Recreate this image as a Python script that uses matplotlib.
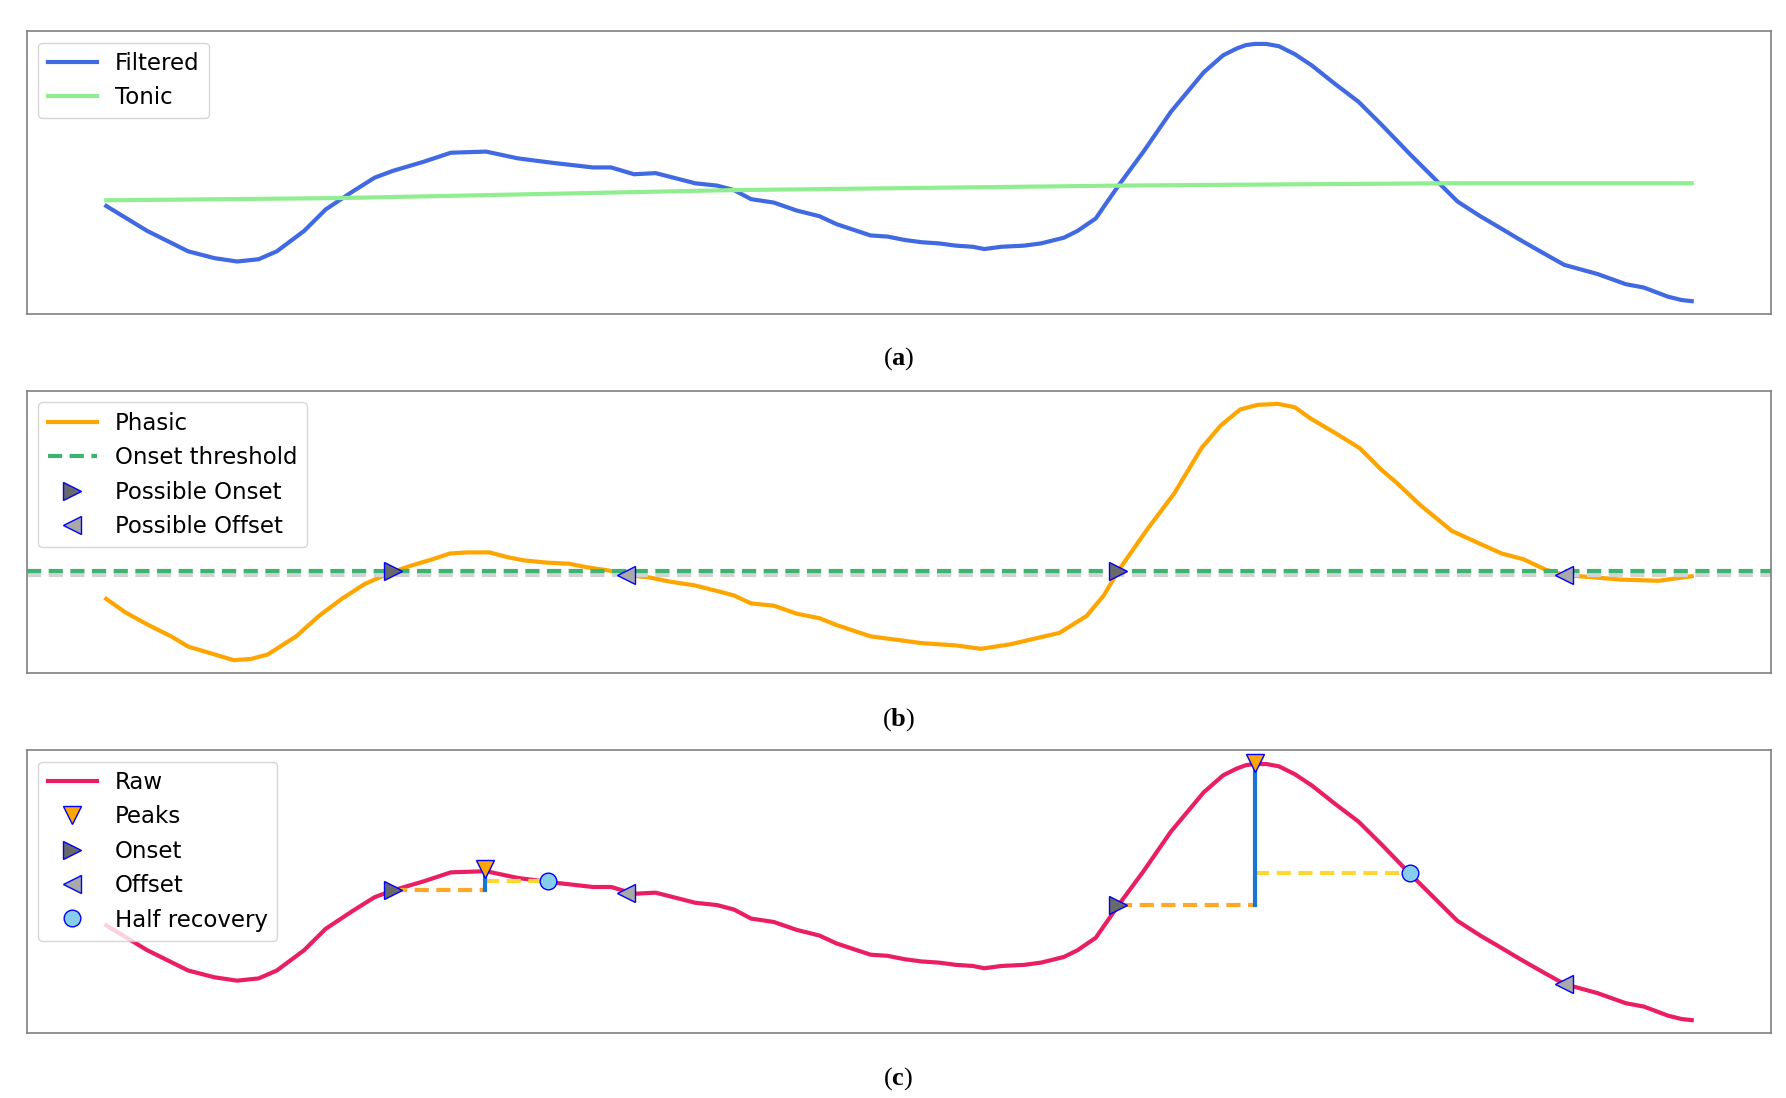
import numpy as np
import matplotlib
matplotlib.use("Agg")
import matplotlib.pyplot as plt

# signal (sample index, arbitrary units)
raw_x = [0, 36, 72, 95, 115, 134, 150, 174, 193, 217, 236, 252, 279, 303, 334,
         362, 393, 428, 444, 464, 483, 518, 537, 552, 567, 587, 607, 627, 642,
         657, 672, 687, 702, 717, 732, 747, 762, 772, 787, 807, 822, 842, 854,
         870, 890, 912, 936, 965, 982, 994, 1002, 1010, 1020, 1031, 1045, 1060,
         1080, 1101, 1121, 1146, 1167, 1188, 1208, 1225, 1245, 1266, 1282, 1311,
         1336, 1352, 1373, 1385, 1394]
raw_y = [99, 77, 59, 53, 50, 52, 59, 77, 96, 112, 124, 130, 138, 146, 147,
         141, 137, 133, 133, 127, 128, 119, 117, 113, 105, 102, 95, 90, 83,
         78, 73, 72, 69, 67, 66, 64, 63, 61, 63, 64, 66, 71, 77,
         88, 117, 147, 182, 217, 232, 238, 241, 242, 242, 240, 233, 223,
         207, 191, 171, 145, 124, 103, 90, 80, 68, 56, 47, 39,
         30, 27, 19, 16, 15]
filtered_x = raw_x
filtered_y = raw_y

tonic_x = [0, 207, 550, 892, 1169, 1394]
tonic_y = [104, 106, 113, 117, 119, 119]

phasic_x = [0, 17, 37, 57, 72, 92, 112, 127, 142, 167, 187, 207, 227, 247, 267,
            287, 302, 317, 337, 352, 367, 387, 407, 422, 442, 457, 477, 497,
            517, 537, 552, 567, 587, 607, 627, 642, 657, 672, 687, 702, 717,
            732, 747, 769, 795, 838, 862, 877, 890, 915, 939, 963, 980, 997,
            1012, 1030, 1045, 1059, 1081, 1102, 1121, 1135, 1155, 1183, 1207,
            1227, 1246, 1265, 1282, 1308, 1332, 1365, 1394]
phasic_y = [-21, -33, -44, -54, -63, -69, -75, -74, -70, -54, -36, -21, -8, 1, 8,
            14, 19, 20, 20, 16, 13, 11, 10, 7, 4, 0, -2, -6,
            -9, -14, -18, -25, -27, -34, -38, -44, -49, -54, -56, -58, -60,
            -61, -62, -65, -61, -51, -36, -18, 4, 40, 72, 112, 132, 146,
            150, 151, 148, 138, 125, 112, 93, 81, 62, 39, 28,
            19, 14, 5, 0, -2, -4, -5, -1]
onset_threshold = 4
zero_level = 0

possible_onset_x = [252, 890]
possible_offset_x = [457, 1282]

# events on raw signal
onset_x = [252, 890]
onset_y = [130, 117]
peak_x = [333, 1010]
peak_y = [149, 243]
halfrec_x = [388, 1146]
halfrec_y = [138, 145]
offset_x = [457, 1282]
offset_y = [128, 47]

plt.rcParams['mathtext.fontset'] = 'custom'
plt.rcParams['mathtext.rm'] = 'Liberation Serif'
plt.rcParams['mathtext.bf'] = 'Liberation Serif:bold'

fig = plt.figure(figsize=(17.86, 10.98), dpi=100)
ax_a = fig.add_axes([0.0151, 0.714, 0.9765, 0.2577])
ax_b = fig.add_axes([0.0151, 0.3871, 0.9765, 0.2568])
ax_c = fig.add_axes([0.0151, 0.0592, 0.9765, 0.2577])

lw = 3
dash = (3.4, 1.8)
mk = dict(markersize=13, markeredgecolor='blue', markeredgewidth=1, linestyle='none')

# (a)
ax_a.plot(filtered_x, filtered_y, color='royalblue', lw=lw, label='Filtered')
ax_a.plot(tonic_x, tonic_y, color='lightgreen', lw=lw, label='Tonic')

# (b)
ax_b.plot(phasic_x, phasic_y, color='orange', lw=lw, label='Phasic')
ax_b.axhline(zero_level, color='lightgray', ls='--', dashes=dash, lw=lw)
ax_b.axhline(onset_threshold, color='mediumseagreen', ls='--', dashes=dash, lw=lw,
             label='Onset threshold')
ax_b.plot(possible_onset_x, [onset_threshold] * 2, marker='>', markerfacecolor='dimgray',
          label='Possible Onset', **mk)
ax_b.plot(possible_offset_x, [zero_level] * 2, marker='<', markerfacecolor='darkgray',
          label='Possible Offset', **mk)

# (c)
ax_c.plot(raw_x, raw_y, color='#e91e63', lw=lw, label='Raw')
for i in range(len(peak_x)):
    ax_c.plot([onset_x[i], peak_x[i]], [onset_y[i], onset_y[i]], color='#ffa726',
              ls='--', dashes=dash, lw=lw)
    ax_c.plot([peak_x[i], halfrec_x[i]], [halfrec_y[i], halfrec_y[i]], color='#fdd835',
              ls='--', dashes=dash, lw=lw)
    ax_c.plot([peak_x[i], peak_x[i]], [onset_y[i], peak_y[i]], color='#1976d2', lw=lw)
ax_c.plot(peak_x, peak_y, marker='v', markerfacecolor='orange', label='Peaks', **mk)
ax_c.plot(onset_x, onset_y, marker='>', markerfacecolor='dimgray', label='Onset', **mk)
ax_c.plot(offset_x, offset_y, marker='<', markerfacecolor='darkgray', label='Offset', **mk)
ax_c.plot(halfrec_x, halfrec_y, marker='o', markerfacecolor='skyblue', label='Half recovery',
          markersize=12, markeredgecolor='blue', markeredgewidth=1, linestyle='none')

for ax, cap, yc in [(ax_a, 'a', 0.673), (ax_b, 'b', 0.345), (ax_c, 'c', 0.018)]:
    ax.set_xticks([])
    ax.set_yticks([])
    for s in ax.spines.values():
        s.set_color('#808080')
        s.set_linewidth(1.2)
    ax.legend(loc='upper left', fontsize=16.5, handlelength=2.15)
    fig.text(0.503, yc, r'$\mathrm{(}\mathbf{%s}\mathrm{)}$' % cap, fontsize=19,
             ha='center', va='center')

fig.savefig('out.png', dpi=100)
